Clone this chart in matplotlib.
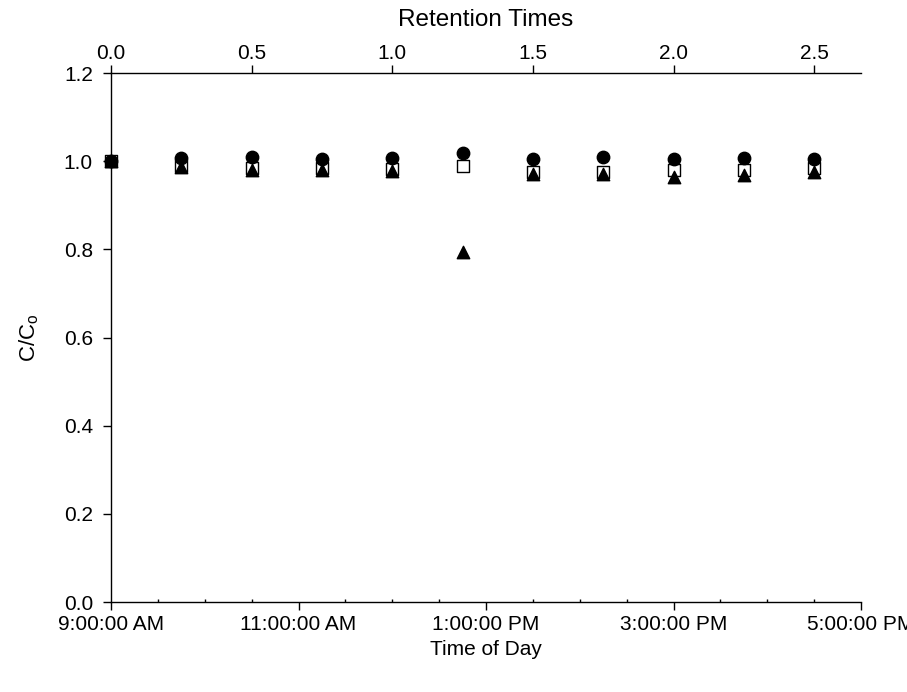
import matplotlib
matplotlib.use("Agg")
import matplotlib.pyplot as plt
from matplotlib.ticker import MultipleLocator, FuncFormatter

plt.rcParams['font.family'] = ['Liberation Sans', 'DejaVu Sans']
plt.rcParams['mathtext.fontset'] = 'custom'
plt.rcParams['mathtext.rm'] = 'Liberation Sans'
plt.rcParams['mathtext.it'] = 'Liberation Sans:italic'

# Data (retention times)
retention = [0.0, 0.25, 0.5, 0.75, 1.0, 1.25, 1.5, 1.75, 2.0, 2.25, 2.5]
circles = [1.000, 1.007, 1.009, 1.005, 1.007, 1.018, 1.005, 1.009, 1.005, 1.007, 1.005]
squares = [1.000, 0.990, 0.984, 0.984, 0.982, 0.988, 0.976, 0.975, 0.980, 0.980, 0.984]
triangles = [1.000, 0.987, 0.980, 0.980, 0.978, 0.795, 0.970, 0.970, 0.965, 0.968, 0.975]

hour_ticks = [9, 11, 13, 15, 17]
hours_per_retention = 3.0
start_hour = 9
end_hour = 17


def fmt_time(h, pos=None):
    h = int(round(h))
    suffix = 'AM' if h < 12 else 'PM'
    hh = h % 12
    if hh == 0:
        hh = 12
    return f"{hh}:00:00 {suffix}"


fig = plt.figure(figsize=(9.07, 6.92), dpi=100)
ax = fig.add_axes([0.1224, 0.130, 0.8269, 0.7645])

ax.set_xlim(start_hour, end_hour)
ax.set_ylim(0, 1.2)
ax.set_xticks(hour_ticks)
ax.xaxis.set_major_formatter(FuncFormatter(fmt_time))
ax.xaxis.set_minor_locator(MultipleLocator(0.5))
ax.yaxis.set_major_locator(MultipleLocator(0.2))
ax.yaxis.set_major_formatter(FuncFormatter(lambda v, p: f"{v:.1f}"))
ax.spines['right'].set_visible(False)
ax.spines['top'].set_visible(False)
for s in ['left', 'bottom']:
    ax.spines[s].set_linewidth(1.0)
ax.tick_params(axis='both', which='major', direction='out', length=6, width=1.0,
               labelsize=15)
ax.tick_params(axis='x', which='major', pad=3)
ax.tick_params(axis='y', which='major', pad=7)
ax.tick_params(axis='x', which='minor', direction='in', length=2.5, width=1.0)
ax.set_xlabel('Time of Day', fontsize=15, labelpad=5)
ax.set_ylabel(r'C/C$_\mathrm{o}$', fontsize=16, labelpad=16)

axt = ax.twiny()
axt.set_xlim(0, (end_hour - start_hour) / hours_per_retention)
axt.set_ylim(0, 1.2)
axt.xaxis.set_major_locator(MultipleLocator(0.5))
axt.xaxis.set_major_formatter(FuncFormatter(lambda v, p: f"{v:.1f}"))
axt.spines['right'].set_visible(False)
axt.spines['bottom'].set_visible(False)
axt.spines['left'].set_visible(False)
axt.spines['top'].set_linewidth(1.0)
axt.tick_params(axis='x', which='major', direction='out', length=6, width=1.0,
                labelsize=15, pad=1)
axt.set_xlabel('Retention Times', fontsize=17.5, labelpad=13)

axt.scatter(retention, squares, marker='s', s=75, facecolors='white',
            edgecolors='black', linewidths=1.0, zorder=3, clip_on=False)
axt.scatter(retention, triangles, marker='^', s=80, color='black', zorder=4,
            clip_on=False)
axt.scatter(retention, circles, marker='o', s=80, color='black', zorder=5,
            clip_on=False)

fig.savefig('out.png', dpi=100)
